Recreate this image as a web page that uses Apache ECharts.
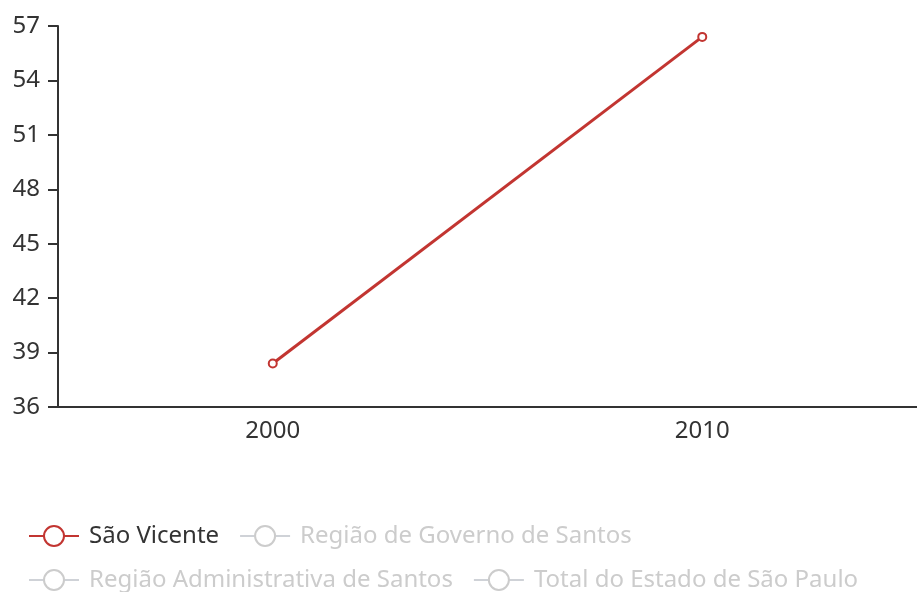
<!DOCTYPE html>
<html>
<head>
<meta charset="utf-8">
<script src="https://cdn.jsdelivr.net/npm/echarts@6/dist/echarts.min.js"></script>
<style>
  html, body { margin: 0; padding: 0; background: #fff; }
  #chart { width: 917px; height: 592px; }
</style>
</head>
<body>
<div id="chart"></div>
<script>
const years = ['2000', '2010'];
const saoVicente = [38.4, 56.4];
// the other three series are switched off in the legend, values not visible
const regiaoGoverno = [];
const regiaoAdministrativa = [];
const totalEstado = [];

const chart = echarts.init(document.getElementById('chart'));

const font = '"Noto Sans", sans-serif';

chart.setOption({
  animation: false,
  color: ['#c23531', '#2f4554', '#61a0a8', '#d48265'],
  grid: { left: 58, top: 26, right: 0, bottom: 185 },
  legend: {
    left: 23,
    top: 519,
    itemGap: 20,
    itemWidth: 50,
    itemHeight: 25,
    inactiveColor: '#ccc',
    itemStyle: { borderWidth: 2 },
    lineStyle: { width: 2 },
    textStyle: { fontSize: 24, color: '#333', fontFamily: font, padding: [0, 2, 0, 5] },
    selected: {
      'São Vicente': true,
      'Região de Governo de Santos': false,
      'Região Administrativa de Santos': false,
      'Total do Estado de São Paulo': false
    }
  },
  xAxis: {
    type: 'category',
    data: years,
    axisLine: { lineStyle: { color: '#333', width: 2 } },
    axisTick: { length: 10, lineStyle: { color: '#333', width: 2 } },
    axisLabel: { fontSize: 24, color: '#333', margin: 12, fontFamily: font }
  },
  yAxis: {
    type: 'value',
    min: 36,
    max: 57,
    interval: 3,
    splitLine: { show: false },
    axisLine: { show: true, lineStyle: { color: '#333', width: 2 } },
    axisTick: { show: true, length: 10, lineStyle: { color: '#333', width: 2 } },
    axisLabel: { fontSize: 24, color: '#333', margin: 18, fontFamily: font }
  },
  series: [
    {
      name: 'São Vicente', type: 'line', data: saoVicente,
      symbol: 'emptyCircle', symbolSize: 8,
      lineStyle: { width: 3 }, itemStyle: { borderWidth: 2 }
    },
    { name: 'Região de Governo de Santos', type: 'line', data: regiaoGoverno, symbol: 'emptyCircle' },
    { name: 'Região Administrativa de Santos', type: 'line', data: regiaoAdministrativa, symbol: 'emptyCircle' },
    { name: 'Total do Estado de São Paulo', type: 'line', data: totalEstado, symbol: 'emptyCircle' }
  ]
});
</script>
</body>
</html>
